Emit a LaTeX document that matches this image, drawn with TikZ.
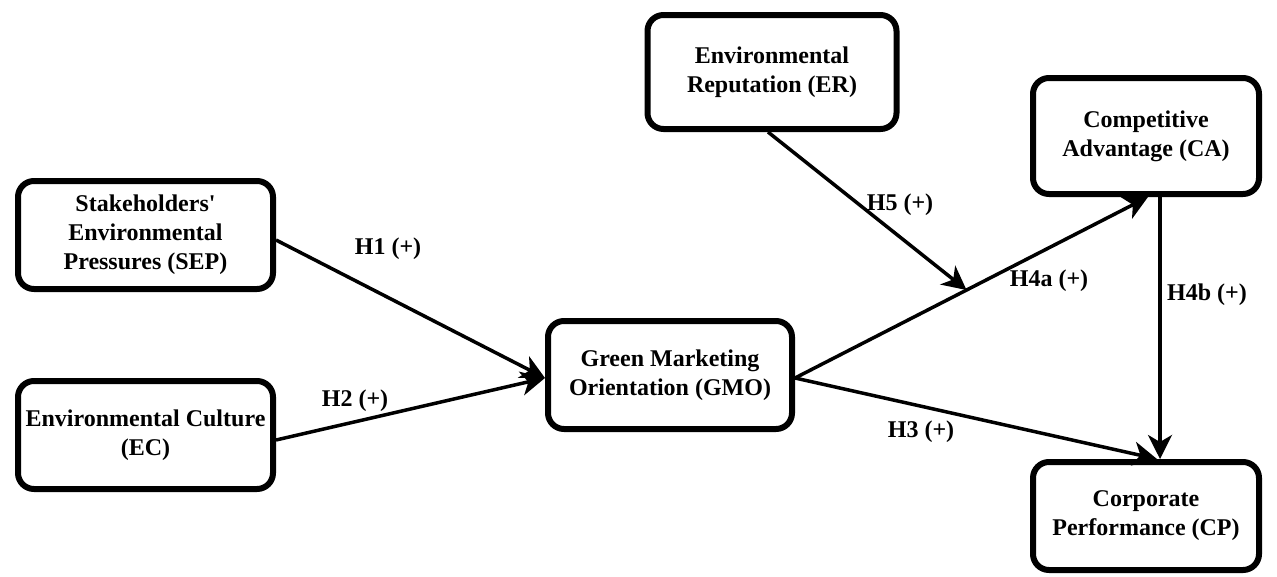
\documentclass[tikz,border=0pt]{standalone}
\usepackage{fontspec}
\setmainfont{Liberation Serif}
\usetikzlibrary{arrows.meta,calc}
\begin{document}
\begin{tikzpicture}[x=1pt,y=-1pt,
  box/.style={draw=black, line width=6pt, rounded corners=16pt, align=center,
    font=\fontsize{24}{29}\selectfont\bfseries, inner sep=0pt},
  conn/.style={line width=3.5pt, -{Stealth[length=24pt,width=24pt,inset=7pt]}},
  lab/.style={font=\fontsize{24}{28}\selectfont\bfseries, inner sep=0pt}]
\useasboundingbox (0,0) rectangle (1277,576);
\node[box, minimum width=255pt, minimum height=108pt] (SEP) at (145.5,235) {Stakeholders\textquotesingle\\Environmental\\Pressures (SEP)};
\node[box, minimum width=255pt, minimum height=108pt] (EC) at (145.5,435) {Environmental Culture\\(EC)};
\node[box, minimum width=244pt, minimum height=108pt] (GMO) at (670,375) {Green Marketing\\Orientation (GMO)};
\node[box, minimum width=249pt, minimum height=114pt] (ER) at (772,72) {Environmental\\Reputation (ER)};
\node[box, minimum width=226pt, minimum height=116pt] (CA) at (1146,136) {Competitive\\Advantage (CA)};
\node[box, minimum width=226pt, minimum height=108pt] (CP) at (1146,516) {Corporate\\Performance (CP)};
\coordinate (GMOin) at ([yshift=-3pt]GMO.west);
\coordinate (GMOout) at ([yshift=-3pt]GMO.east);
\coordinate (CAin) at ([xshift=2pt]CA.south);
\coordinate (CAout) at ([xshift=14pt]CA.south);
\coordinate (CPin) at ([xshift=14pt]CP.north);
\coordinate (CPin2) at ([xshift=11pt]CP.north);
\coordinate (ERout) at ([xshift=-4pt]ER.south);
\draw[conn] ([yshift=-5pt]SEP.east) -- (GMOin);
\draw[conn] ([yshift=-5pt]EC.east) -- (GMOin);
\draw[conn] (GMOout) -- (CAin);
\coordinate (mod) at ($(GMOout)!0.486!(CAin)$);
\draw[conn] (ERout) -- (mod);
\draw[conn] (GMOout) -- (CPin2);
\draw[conn] (CAout) -- (CPin);
\node[lab] (h1) at (388,249) {H1 (+)};
\node[lab] (h2) at (355,401) {H2 (+)};
\node[lab] (h5) at (900,205) {H5 (+)};
\node[lab] (h4a) at (1049,281) {H4a (+)};
\node[lab] (h4b) at (1207,295) {H4b (+)};
\node[lab] (h3) at (921,432) {H3 (+)};
\end{tikzpicture}
\end{document}
